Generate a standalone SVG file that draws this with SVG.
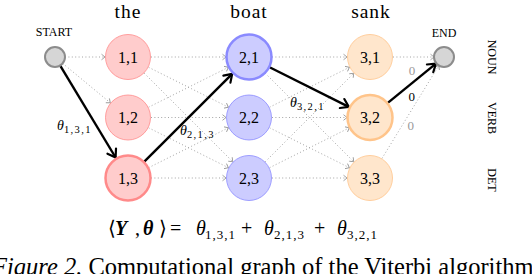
<svg xmlns="http://www.w3.org/2000/svg" width="532" height="274" viewBox="0 0 532 274" font-family="'Liberation Serif', 'DejaVu Serif', serif">
<style>
text{font-family:'Liberation Serif','DejaVu Serif',serif;fill:#000}
.word{font-family:'Liberation Serif',serif;font-size:19.5px;text-anchor:middle;letter-spacing:1px}
.lbl{font-family:'Liberation Serif',serif;font-size:16px;text-anchor:middle}
.sc{font-family:'Liberation Serif',serif;font-size:12px;text-anchor:middle}
.tag{font-family:'Liberation Serif',serif;font-size:12px;text-anchor:middle}
.c1{fill:#ffcccc;stroke:#ff8a8a;stroke-width:0.8}
.c2{fill:#ccccff;stroke:#8a8aff;stroke-width:0.8}
.c3{fill:#ffe6cc;stroke:#ffc48a;stroke-width:0.8}
.thick{stroke-width:2.5}
.term{fill:#d6d6d6;stroke:#8c8c8c;stroke-width:2}
.dot{stroke:#9a9a9a;stroke-width:0.9;stroke-dasharray:1 2.4;fill:none;marker-end:url(#ag)}
.bold{stroke:#000;stroke-width:2.4;fill:none;marker-end:url(#ab)}
.th{font-family:'Liberation Serif',serif;font-size:14px;font-style:italic}
.sub{font-size:10.5px;font-style:normal;letter-spacing:1.4px}
.zero{font-family:'Liberation Serif',serif;font-size:13px;text-anchor:middle}
.grey{fill:#999}
.eq{font-family:'Liberation Serif',serif;font-size:20px}
.esub{font-family:'Liberation Serif',serif;font-size:13px;letter-spacing:1px}
.cap{font-family:'Liberation Serif',serif;font-size:24.5px}
</style>
<defs>
<marker id="ag" orient="auto" markerUnits="userSpaceOnUse" markerWidth="1" markerHeight="1" refX="0" refY="0" overflow="visible">
<path d="M-3.5,-2.8 L0,0 L-3.5,2.8" fill="none" stroke="#8c8c8c" stroke-width="0.8"/>
</marker>
<marker id="ab" orient="auto" markerUnits="userSpaceOnUse" markerWidth="1" markerHeight="1" refX="0" refY="0" overflow="visible">
<path d="M-7.5,-5 L0,0 L-7.5,5" fill="none" stroke="#000" stroke-width="2.2" stroke-linecap="round" stroke-linejoin="round"/>
</marker>
</defs>

<g id="headers">
<text class="word" x="128" y="17.5">the</text>
<text class="word" x="249" y="17.5">boat</text>
<text class="word" x="371" y="17.5">sank</text>
</g>

<g id="tags">
<text class="tag" transform="translate(488,57) rotate(90)">NOUN</text>
<text class="tag" transform="translate(488,118) rotate(90)">VERB</text>
<text class="tag" transform="translate(488,180) rotate(90)">DET</text>
</g>

<g id="connectors">
<line class="dot" x1="65" y1="57" x2="105" y2="57"/>
<line class="dot" x1="62.7" y1="63.4" x2="110.3" y2="102.8"/>
<line class="bold" x1="60.2" y1="65.6" x2="115.6" y2="157.5"/>
<line class="dot" x1="151" y1="57" x2="226" y2="57"/>
<line class="dot" x1="151" y1="117.5" x2="226" y2="117.5"/>
<line class="dot" x1="151" y1="178" x2="226" y2="178"/>
<line class="dot" x1="148.6" y1="67.3" x2="228.4" y2="107.2"/>
<line class="dot" x1="144.3" y1="73.3" x2="232.7" y2="161.7"/>
<line class="dot" x1="148.6" y1="107.2" x2="228.4" y2="67.3"/>
<line class="dot" x1="148.6" y1="127.8" x2="228.4" y2="167.7"/>
<line class="dot" x1="148.6" y1="167.7" x2="228.4" y2="127.8"/>
<line class="bold" x1="144.3" y1="161.7" x2="232.2" y2="73.8"/>
<line class="dot" x1="272" y1="57" x2="347" y2="57"/>
<line class="dot" x1="272" y1="117.5" x2="347" y2="117.5"/>
<line class="dot" x1="272" y1="178" x2="347" y2="178"/>
<line class="dot" x1="265.3" y1="73.3" x2="353.7" y2="161.7"/>
<line class="dot" x1="269.6" y1="107.2" x2="349.4" y2="67.3"/>
<line class="dot" x1="269.6" y1="127.8" x2="349.4" y2="167.7"/>
<line class="dot" x1="265.3" y1="161.7" x2="353.7" y2="73.3"/>
<line class="dot" x1="269.6" y1="167.7" x2="349.4" y2="127.8"/>
<line class="bold" x1="269.6" y1="67.3" x2="348.8" y2="106.9"/>
<line class="dot" x1="393" y1="57" x2="434" y2="57"/>
<line class="dot" x1="382" y1="158.4" x2="438.8" y2="65.5"/>
<line class="bold" x1="387.8" y1="102.9" x2="435.9" y2="63.6"/>
<text class="th" x="57" y="130">θ<tspan class="sub" dy="3">1,3,1</tspan></text>
<text class="th" x="180" y="135">θ<tspan class="sub" dy="3">2,1,3</tspan></text>
<text class="th" x="290" y="107">θ<tspan class="sub" dy="3">3,2,1</tspan></text>
<text class="zero grey" x="412" y="75">0</text>
<text class="zero" x="411.7" y="101">0</text>
<text class="zero grey" x="410.7" y="130">0</text>
</g>

<g id="start">
<circle class="term" cx="55" cy="57" r="10"/>
<text class="sc" x="54" y="36">START</text>
</g>
<g id="end">
<circle class="term" cx="444" cy="57" r="10"/>
<text class="sc" x="444" y="37">END</text>
</g>

<g id="n11"><circle class="c1" cx="128" cy="57" r="22.5"/><text class="lbl" x="128" y="62.5">1,1</text></g>
<g id="n12"><circle class="c1" cx="128" cy="117.5" r="22.5"/><text class="lbl" x="128" y="123">1,2</text></g>
<g id="n13"><circle class="c1 thick" cx="128" cy="178" r="22.5"/><text class="lbl" x="128" y="183.5">1,3</text></g>
<g id="n21"><circle class="c2 thick" cx="249" cy="57" r="22.5"/><text class="lbl" x="249" y="62.5">2,1</text></g>
<g id="n22"><circle class="c2" cx="249" cy="117.5" r="22.5"/><text class="lbl" x="249" y="123">2,2</text></g>
<g id="n23"><circle class="c2" cx="249" cy="178" r="22.5"/><text class="lbl" x="249" y="183.5">2,3</text></g>
<g id="n31"><circle class="c3" cx="370" cy="57" r="22.5"/><text class="lbl" x="370" y="62.5">3,1</text></g>
<g id="n32"><circle class="c3 thick" cx="370" cy="117.5" r="22.5"/><text class="lbl" x="370" y="123">3,2</text></g>
<g id="n33"><circle class="c3" cx="370" cy="178" r="22.5"/><text class="lbl" x="370" y="183.5">3,3</text></g>

<g id="equation">
<text class="eq" x="108" y="235">⟨</text>
<text class="eq" x="115" y="235" font-weight="bold" font-style="italic">Y</text>
<text class="eq" x="135" y="235">,</text>
<text class="eq" x="143" y="235" font-weight="bold" font-style="italic">θ</text>
<text class="eq" x="159" y="235">⟩</text>
<text class="eq" x="170" y="235">=</text>
<text class="eq" x="196" y="235" font-style="italic">θ</text>
<text class="esub" x="205" y="239">1,3,1</text>
<text class="eq" x="241" y="235">+</text>
<text class="eq" x="264" y="235" font-style="italic">θ</text>
<text class="esub" x="274" y="239">2,1,3</text>
<text class="eq" x="314" y="235">+</text>
<text class="eq" x="337" y="235" font-style="italic">θ</text>
<text class="esub" x="347" y="239">3,2,1</text>
</g>

<text class="cap" x="-8" y="275"><tspan font-style="italic">Figure 2.</tspan> Computational graph of the Viterbi algorithm</text>
</svg>
